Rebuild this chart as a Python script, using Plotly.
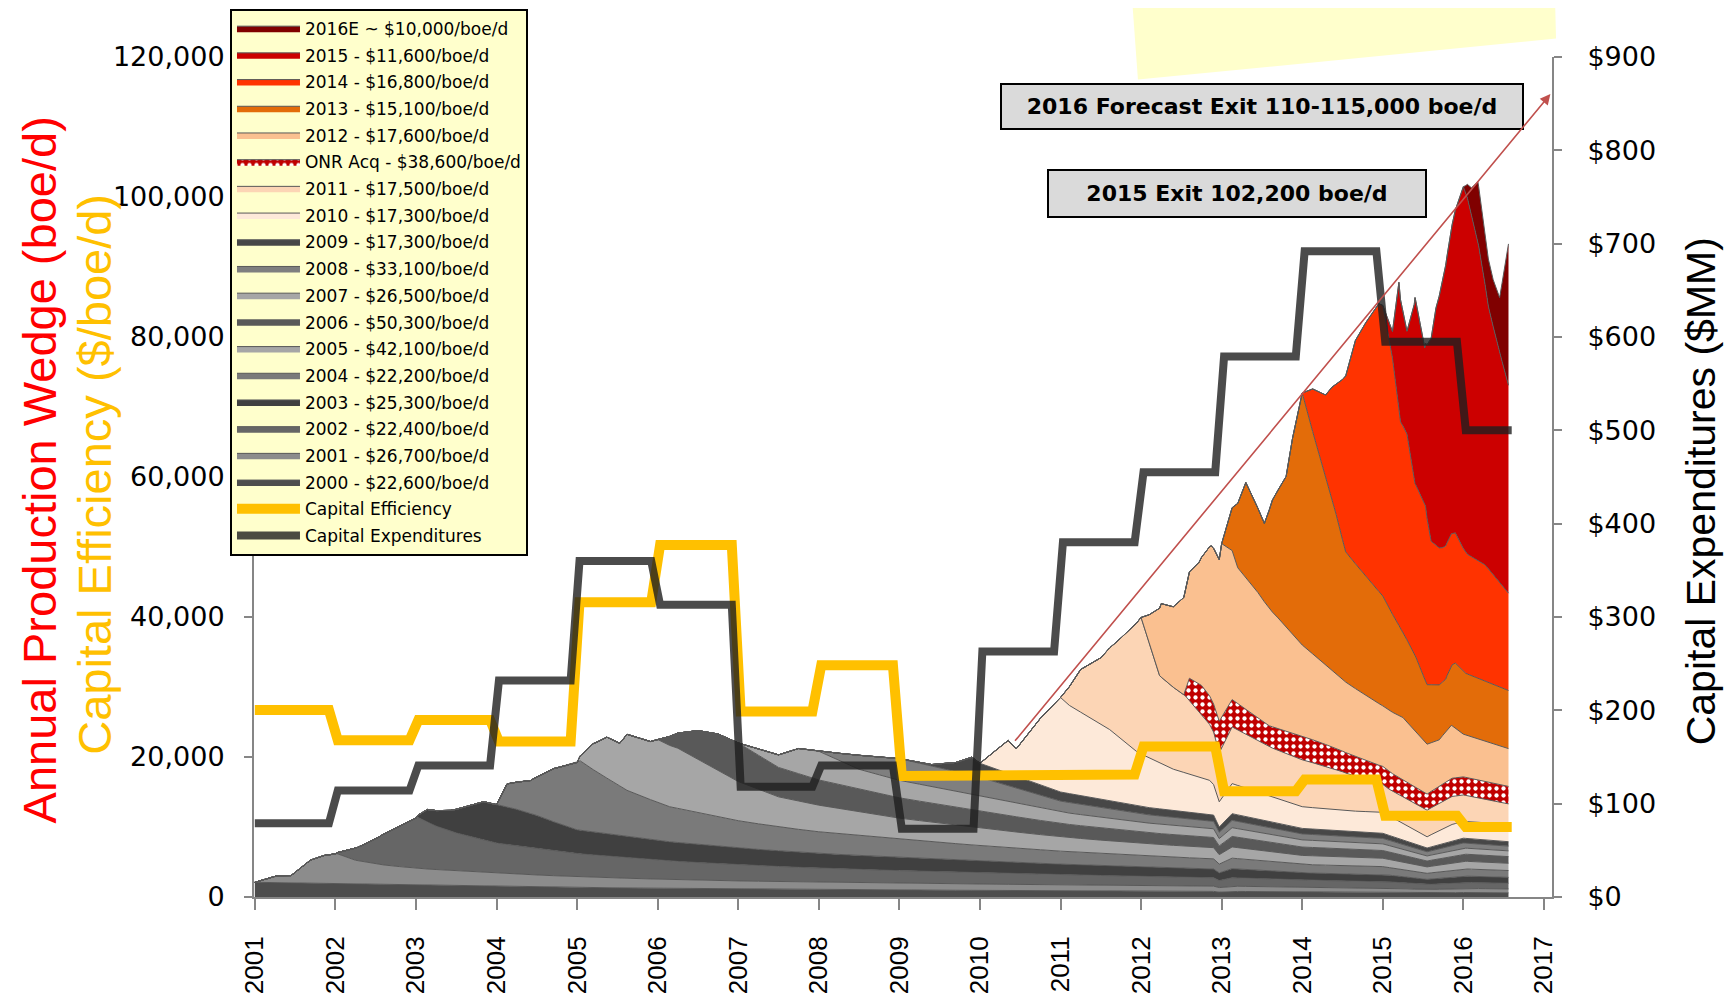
import plotly.graph_objects as go

# vintage wedges (boe/d); each starts at its own date
x2000 = [2001.0, 2002, 2003, 2004, 2005, 2006, 2007, 2008, 2009, 2010, 2011, 2012, 2012.9, 2012.97, 2013.13, 2014, 2015, 2015.55, 2016, 2016.56]
y2000 = [2100, 1900, 1700, 1500, 1350, 1250, 1150, 1070, 1000, 950, 900, 850, 800, 700, 800, 720, 680, 550, 640, 600]

x2001 = [2001.0, 2001.28, 2001.45, 2001.69, 2001.86, 2002.02, 2002.25, 2002.5, 2003, 2004, 2005, 2006, 2007, 2008, 2009, 2010, 2011, 2012, 2012.9, 2012.97, 2013.13, 2014, 2015, 2015.55, 2016, 2016.56]
y2001 = [0, 1000, 1050, 3300, 4000, 4300, 3400, 2900, 2400, 1900, 1550, 1300, 1150, 1050, 970, 900, 850, 800, 750, 650, 750, 670, 630, 500, 590, 550]

x2002 = [2002.0, 2002.27, 2002.6, 2002.8, 2003.02, 2003.25, 2003.5, 2004, 2005, 2006, 2007, 2008, 2009, 2010, 2011, 2012, 2012.9, 2012.97, 2013.13, 2014, 2015, 2015.55, 2016, 2016.56]
y2002 = [0, 1850, 4400, 5800, 7300, 6200, 5400, 4300, 3300, 2700, 2300, 2000, 1800, 1600, 1450, 1300, 1200, 1000, 1200, 1000, 930, 720, 860, 810]

x2003 = [2003.0, 2003.14, 2003.43, 2003.84, 2004.01, 2004.25, 2004.5, 2004.75, 2005, 2006, 2007, 2008, 2009, 2010, 2011, 2012, 2012.9, 2012.97, 2013.13, 2014, 2015, 2015.55, 2016, 2016.56]
y2003 = [0, 1770, 2950, 5450, 5500, 5200, 4700, 4000, 3400, 2800, 2400, 2100, 1900, 1700, 1500, 1350, 1250, 1100, 1300, 1050, 980, 750, 900, 850]

x2004 = [2004.0, 2004.13, 2004.42, 2004.71, 2005.04, 2005.25, 2005.62, 2006.15, 2007, 2007.5, 2008, 2009, 2010, 2011, 2012, 2012.9, 2012.97, 2013.13, 2014, 2015, 2015.55, 2016, 2016.56]
y2004 = [0, 3300, 4700, 7600, 9900, 8600, 6600, 5000, 3900, 3400, 3100, 2600, 2200, 1850, 1600, 1450, 1250, 1500, 1200, 1120, 860, 1030, 970]

x2005 = [2005.0, 2005.2, 2005.37, 2005.53, 2005.62, 2005.91, 2006.0, 2006.25, 2006.5, 2006.75, 2007.0, 2007.5, 2008, 2009, 2010, 2011, 2012, 2012.9, 2012.97, 2013.13, 2014, 2015, 2015.55, 2016, 2016.56]
y2005 = [0, 3700, 5850, 6100, 8000, 8300, 9000, 8600, 7600, 6600, 5600, 4300, 3800, 3000, 2500, 2050, 1750, 1600, 1350, 1600, 1300, 1200, 920, 1100, 1040]

x2006 = [2006.0, 2006.25, 2006.5, 2006.75, 2007.0, 2007.5, 2008, 2009, 2010, 2011, 2012, 2012.9, 2012.97, 2013.13, 2014, 2015, 2015.55, 2016, 2016.56]
y2006 = [0, 2150, 4100, 5200, 5500, 4200, 3600, 2900, 2400, 1900, 1600, 1450, 1250, 1500, 1200, 1100, 840, 1010, 950]

x2007 = [2007.0, 2007.25, 2007.5, 2007.75, 2008.0, 2008.25, 2008.5, 2009, 2010, 2011, 2012, 2012.9, 2012.97, 2013.13, 2014, 2015, 2015.55, 2016, 2016.56]
y2007 = [0, 900, 1800, 3600, 4100, 3450, 2800, 2500, 2200, 1650, 1400, 1250, 1050, 1250, 1020, 950, 720, 870, 820]

x2008 = [2008.0, 2008.25, 2008.5, 2008.75, 2009.0, 2009.25, 2009.5, 2010, 2011, 2012, 2012.9, 2012.97, 2013.13, 2014, 2015, 2015.55, 2016, 2016.56]
y2008 = [0, 1000, 2000, 2600, 3100, 3000, 2900, 2650, 1550, 1200, 1050, 900, 1050, 850, 780, 600, 720, 680]

x2009 = [2009.0, 2009.4, 2009.7, 2009.9, 2010.0, 2011, 2012, 2012.9, 2012.97, 2013.13, 2014, 2015, 2015.55, 2016, 2016.56]
y2009 = [0, 200, 1300, 2600, 2000, 1300, 1050, 900, 750, 950, 790, 730, 540, 680, 630]

x2010 = [2010.0, 2010.2, 2010.35, 2010.45, 2010.75, 2011.0, 2011.11, 2011.61, 2011.94, 2012.35, 2012.85, 2012.97, 2013.13, 2014.0, 2014.54, 2015.0, 2015.55, 2015.82, 2016.0, 2016.56]
y2010 = [0, 2700, 4700, 3900, 9500, 13500, 12600, 10200, 7800, 6000, 4900, 3600, 4300, 3100, 2900, 3000, 1600, 2400, 2400, 2500]

x2011 = [2011.0, 2011.25, 2011.5, 2011.75, 2012.0, 2012.23, 2012.55, 2012.9, 2012.97, 2013.13, 2013.59, 2014.0, 2014.42, 2014.83, 2015.08, 2015.55, 2015.86, 2016.56]
y2011 = [0, 6100, 9500, 14400, 19500, 12500, 11000, 7500, 7000, 8100, 7000, 6700, 5800, 4400, 3800, 3800, 4000, 2900]

x_onr = [2012.53, 2012.6, 2012.75, 2012.9, 2012.97, 2013.13, 2013.59, 2014.0, 2014.42, 2014.83, 2015.08, 2015.55, 2015.86, 2016.56]
y_onr = [0, 3200, 4200, 4000, 4500, 3900, 3000, 3400, 3000, 2700, 2500, 2300, 2600, 2500]

x2012 = [2012.0, 2012.1, 2012.25, 2012.4, 2012.72, 2012.87, 2012.97, 2013.0, 2013.2, 2013.45, 2013.7, 2014.0, 2014.5, 2015.0, 2015.25, 2015.53, 2015.7, 2015.85, 2016.0, 2016.56]
y2012 = [0, 4000, 10500, 11500, 17400, 21900, 23100, 24800, 19400, 17900, 15800, 13000, 10200, 8650, 8900, 7200, 6600, 7600, 6100, 5400]

x2013 = [2013.0, 2013.1, 2013.3, 2013.53, 2013.63, 2013.8, 2013.88, 2014.0, 2014.13, 2014.37, 2014.54, 2014.79, 2015.0, 2015.24, 2015.41, 2015.55, 2015.78, 2015.9, 2016.03, 2016.56]
y2013 = [0, 4800, 13600, 11200, 16000, 21500, 28000, 36000, 31750, 24550, 18600, 17000, 15700, 12300, 10700, 8500, 7500, 9300, 8800, 8300]

x2014 = [2014.0, 2014.13, 2014.29, 2014.5, 2014.66, 2014.79, 2014.95, 2015.0, 2015.12, 2015.22, 2015.3, 2015.39, 2015.53, 2015.6, 2015.74, 2015.9, 2016.05, 2016.27, 2016.56]
y2014 = [0, 6100, 11600, 22900, 31900, 36300, 41100, 41500, 36600, 29500, 29400, 24500, 25000, 20500, 19200, 18600, 17100, 16600, 13900]

x2015 = [2015.0, 2015.12, 2015.2, 2015.3, 2015.4, 2015.52, 2015.66, 2015.8, 2015.9, 2016.0, 2016.05, 2016.19, 2016.31, 2016.4, 2016.48, 2016.56]
y2015 = [0, 3800, 18100, 14700, 26600, 22400, 33900, 41100, 46100, 51700, 50900, 45000, 37500, 34400, 32000, 29700]

x2016 = [2016.0, 2016.1, 2016.18, 2016.27, 2016.37, 2016.45, 2016.56]
y2016 = [0, 3900, 8700, 6800, 6700, 7800, 20200]

# legend labels, top to bottom
labels = ["2016E ~ $10,000/boe/d", "2015 - $11,600/boe/d", "2014 - $16,800/boe/d",
          "2013 - $15,100/boe/d", "2012 - $17,600/boe/d", "ONR Acq - $38,600/boe/d",
          "2011 - $17,500/boe/d", "2010 - $17,300/boe/d", "2009 - $17,300/boe/d",
          "2008 - $33,100/boe/d", "2007 - $26,500/boe/d", "2006 - $50,300/boe/d",
          "2005 - $42,100/boe/d", "2004 - $22,200/boe/d", "2003 - $25,300/boe/d",
          "2002 - $22,400/boe/d", "2001 - $26,700/boe/d", "2000 - $22,600/boe/d"]
colors = ["#800000", "#CC0000", "#FF3300", "#E36C09", "#FAC090", "#C00000",
          "#FCD5B5", "#FDE9D9", "#474747", "#7F7F7F", "#A6A6A6", "#595959",
          "#A6A6A6", "#7A7A7A", "#404040", "#666666", "#8C8C8C", "#4D4D4D"]
series = [(x2016, y2016), (x2015, y2015), (x2014, y2014), (x2013, y2013), (x2012, y2012),
          (x_onr, y_onr), (x2011, y2011), (x2010, y2010), (x2009, y2009), (x2008, y2008),
          (x2007, y2007), (x2006, y2006), (x2005, y2005), (x2004, y2004), (x2003, y2003),
          (x2002, y2002), (x2001, y2001), (x2000, y2000)]

# yearly capital efficiency ($/boe/d) and capex ($MM)
years = list(range(2001, 2017))
cap_eff = [26700, 22400, 25300, 22200, 42100, 50300, 26500, 33100, 17300, 17300, 17500, 21500, 15100, 16800, 11600, 10000]
capex = [79, 114, 141, 232, 360, 313, 118, 141, 73, 263, 380, 455, 579, 692, 595, 500]
capex_ticks = list(range(0, 901, 100))

seg_x, eff_y, capex_y = [], [], []
for yr, e, c in zip(years, cap_eff, capex):
    start = yr if yr == years[0] else yr + 0.03
    end = 2016.6 if yr == years[-1] else yr + 0.92
    seg_x += [start, end]
    eff_y += [e, e]
    capex_y += [c, c]

fig = go.Figure()

# stack from the bottom (2000) up
n = len(labels)
for i in reversed(range(n)):
    xs, ys = series[i]
    extra = {}
    if labels[i].startswith("ONR"):
        extra["fillpattern"] = dict(shape=".", fgcolor="white", bgcolor="#C00000",
                                    size=7, solidity=0.3)
    fig.add_trace(go.Scatter(
        x=xs, y=ys, name=labels[i], mode="lines",
        stackgroup="wedge", stackgaps="interpolate",
        line=dict(color="#595959", width=1),
        fillcolor=colors[i],
        legendrank=i + 1, legendgroup=labels[i],
        hoverinfo="skip", **extra,
    ))

fig.add_trace(go.Scatter(
    x=seg_x, y=eff_y, name="Capital Efficiency", mode="lines",
    line=dict(color="#FFC000", width=10),
    legendrank=n + 1, legendgroup="eff", hoverinfo="skip",
))
fig.add_trace(go.Scatter(
    x=seg_x, y=capex_y, name="Capital Expenditures", mode="lines", yaxis="y2",
    line=dict(color="rgba(30,30,30,0.8)", width=8),
    legendrank=n + 2, legendgroup="capex", hoverinfo="skip",
))

axis_grey = "#868686"
fig.update_layout(
    width=1716, height=990,
    template="none",
    paper_bgcolor="white", plot_bgcolor="rgba(0,0,0,0)",
    margin=dict(l=246, r=172, t=49, b=101, autoexpand=False),
    showlegend=True,
    legend=dict(x=-0.0185, y=1.0576, xanchor="left", yanchor="top",
                bgcolor="#FFFFCC", bordercolor="black", borderwidth=2,
                font=dict(family="DejaVu Sans", size=17, color="black"),
                tracegroupgap=1.6, itemwidth=63, traceorder="grouped",
                maxheight=700),
    xaxis=dict(range=[2000.99, 2017.1], tickvals=list(range(2001, 2018)),
               ticktext=[str(v) for v in range(2001, 2018)], tickangle=-90,
               ticks="outside", ticklen=11, tickwidth=2, tickcolor=axis_grey,
               showline=True, linecolor=axis_grey, linewidth=2,
               showgrid=False, zeroline=False, automargin=False,
               tickfont=dict(family="Liberation Sans", size=26, color="black"),
               ticklabelstandoff=16),
    yaxis=dict(range=[0, 120000], tickvals=list(range(0, 120001, 20000)), tickformat=",",
               ticks="outside", ticklen=8, tickwidth=2, tickcolor=axis_grey,
               showline=True, linecolor=axis_grey, linewidth=2,
               showgrid=False, zeroline=False, automargin=False,
               tickfont=dict(family="DejaVu Sans", size=27, color="black"),
               ticklabelstandoff=14),
    yaxis2=dict(overlaying="y", side="right", anchor="x", range=[0, 900],
                tickvals=capex_ticks, ticktext=["$" + str(v) for v in capex_ticks],
                ticks="outside", ticklen=8, tickwidth=2, tickcolor=axis_grey,
                showline=True, linecolor=axis_grey, linewidth=2,
                showgrid=False, zeroline=False, automargin=False,
                tickfont=dict(family="DejaVu Sans", size=27, color="black"),
                ticklabelstandoff=20),
    shapes=[dict(type="path", xref="paper", yref="paper",
                 path="M 0.6764 1.0707 L 1.0023 1.0707 L 1.0031 1.0219 L 0.681 0.9731 Z",
                 fillcolor="#FFFFCC", line=dict(width=0), layer="below")],
    annotations=[
        dict(text="Annual Production Wedge (boe/d)", x=-0.1656, y=0.5079,
             xref="paper", yref="paper", textangle=-90, showarrow=False,
             xanchor="center", yanchor="middle",
             font=dict(family="Liberation Sans", size=47, color="#FF0000")),
        dict(text="Capital Efficiency ($/boe/d)", x=-0.1225, y=0.5038,
             xref="paper", yref="paper", textangle=-90, showarrow=False,
             xanchor="center", yanchor="middle",
             font=dict(family="Liberation Sans", size=47, color="#FFC000")),
        dict(text="Capital Expenditures ($MM)", x=1.1148, y=0.483,
             xref="paper", yref="paper", textangle=-90, showarrow=False,
             xanchor="center", yanchor="middle",
             font=dict(family="Liberation Sans", size=41, color="black")),
        dict(text="<b>2016 Forecast Exit 110-115,000 boe/d</b>", x=0.7766, y=0.9415,
             xref="paper", yref="paper", showarrow=False,
             xanchor="center", yanchor="middle",
             bgcolor="#DADADA", bordercolor="black", borderwidth=2, borderpad=1,
             width=518, height=41,
             font=dict(family="DejaVu Sans", size=22, color="black")),
        dict(text="<b>2015 Exit 102,200 boe/d</b>", x=0.7573, y=0.8379,
             xref="paper", yref="paper", showarrow=False,
             xanchor="center", yanchor="middle",
             bgcolor="#DADADA", bordercolor="black", borderwidth=2, borderpad=1,
             width=374, height=43,
             font=dict(family="DejaVu Sans", size=22, color="black")),
        dict(text="", x=2017.08, y=114700, ax=2010.42, ay=22100,
             xref="x", yref="y", axref="x", ayref="y",
             showarrow=True, arrowhead=2, arrowsize=1.3, arrowwidth=1.6,
             arrowcolor="#C0504D"),
    ],
)

fig.write_html("out.html")
